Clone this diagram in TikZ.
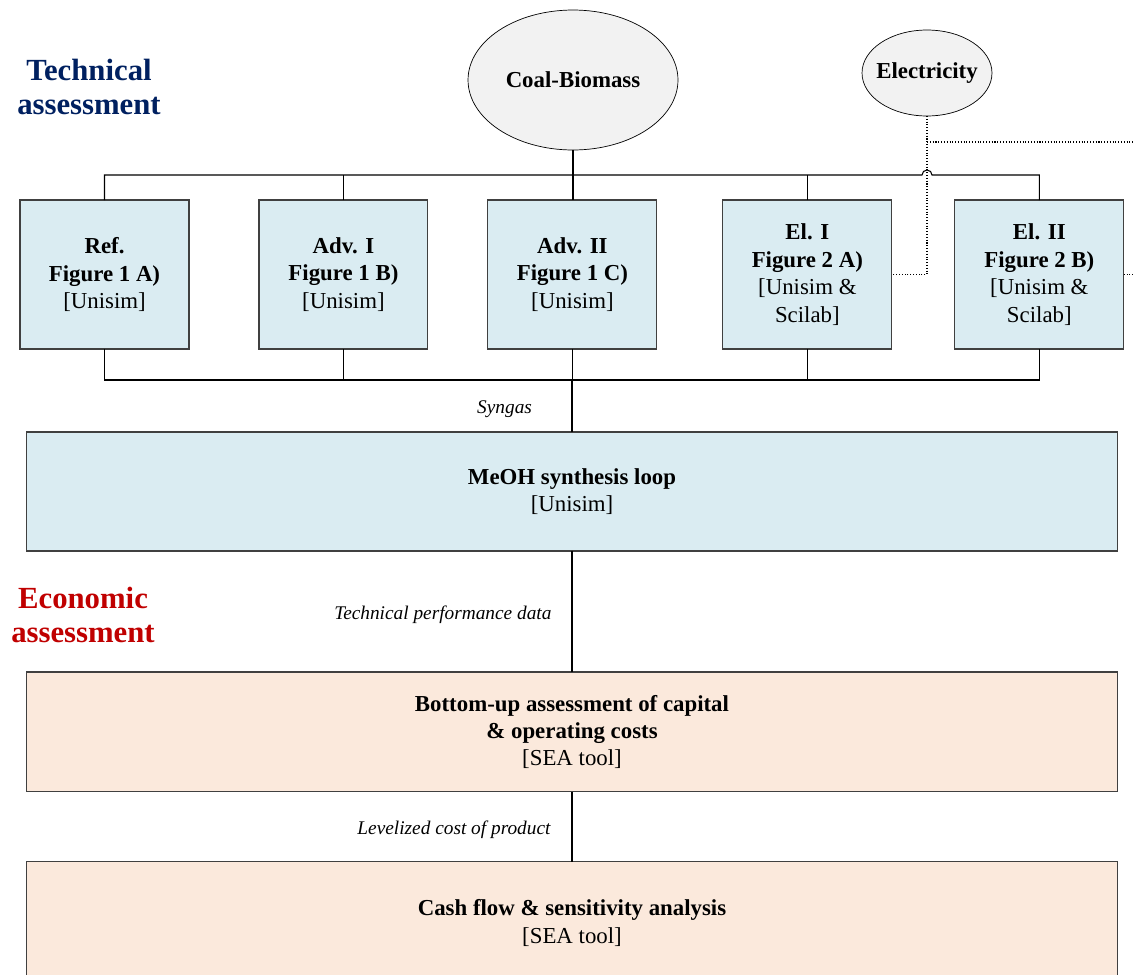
\documentclass[tikz,border=0pt]{standalone}
\usepackage{fontspec}
\setmainfont{Liberation Serif}
\usepackage{xcolor}
\usepackage{tikz}
\usetikzlibrary{shapes.geometric, positioning}
\definecolor{techblue}{RGB}{0,32,96}
\definecolor{econred}{RGB}{192,0,0}
\definecolor{boxblue}{RGB}{218,236,242}
\definecolor{boxpeach}{RGB}{251,233,220}
\definecolor{feedgray}{RGB}{242,242,242}
\definecolor{edgegray}{RGB}{64,64,64}
\tikzstyle{feed} = [ellipse,
draw=black, fill=feedgray,
inner sep=0pt, outer sep=0pt,
font=\fontsize{13}{15}\selectfont\bfseries]
\tikzstyle{config} = [rectangle,
minimum width=3.38cm,
minimum height=2.98cm,
text centered, align=center,
line width=0.6pt, outer sep=0pt,
draw=edgegray, fill=boxblue,
font=\fontsize{13}{15.6}\selectfont]
\tikzstyle{stage} = [rectangle,
minimum width=21.84cm,
minimum height=2.38cm,
text centered, align=center,
line width=0.6pt, outer sep=0pt,
draw=edgegray, fill=boxblue,
font=\fontsize{13}{15.6}\selectfont]
\tikzstyle{econstage} = [stage, minimum height=2.4cm, fill=boxpeach]
\tikzstyle{flowlabel} = [inner sep=0pt, font=\fontsize{11}{13}\selectfont\itshape]
\tikzstyle{heading} = [align=center, font=\fontsize{17.5}{19.3}\selectfont\bfseries]
\tikzstyle{bus} = [line width=0.6pt]
\tikzstyle{main} = [line width=1.2pt]
\tikzstyle{power} = [line width=0.6pt, densely dotted]

\begin{document}
\begin{tikzpicture}[x=0.02cm, y=-0.02cm]
                \clip (0,0) rectangle (1135,974);
                \node (techhead) [heading, text=techblue] at (89,87) {Technical\\assessment};
                \node (econhead) [heading, text=econred] at (83,615) {Economic\\assessment};

                \node (coal) [feed, minimum width=4.2cm, minimum height=2.8cm] at (573,80) {Coal-Biomass};
                \node (elec) [feed, inner xsep=-0.1cm, minimum width=2.6cm, minimum height=1.72cm] at (927,73) {Electricity};

                \node (ref) [config] at (104.5,274.5) {\textbf{Ref.}\\\textbf{Figure 1 A)}\\{[Unisim]}};
                \node (adv1) [config, right=1.4cm of ref] {\textbf{Adv. I}\\\textbf{Figure 1 B)}\\{[Unisim]}};
                \node (adv2) [config, right=1.2cm of adv1] {\textbf{Adv. II}\\\textbf{Figure 1 C)}\\{[Unisim]}};
                \node (el1) [config, right=1.32cm of adv2] {\textbf{El. I}\\\textbf{Figure 2 A)}\\{[Unisim \&}\\Scilab]};
                \node (el2) [config, right=1.26cm of el1] {\textbf{El. II}\\\textbf{Figure 2 B)}\\{[Unisim \&}\\Scilab]};

                \node (meoh) [stage] at (572,491.5) {\textbf{MeOH synthesis loop}\\{[Unisim]}};
                \node (capex) [econstage, below=2.42cm of meoh] {\textbf{Bottom-up assessment of capital}\\\textbf{\& operating costs}\\{[SEA tool]}};
                \node (cashflow) [econstage, below=1.4cm of capex, minimum height=2.44cm] {\textbf{Cash flow \& sensitivity analysis}\\{[SEA tool]}};

                \coordinate (topbus) at (573,175);
                \coordinate (botbus) at (572,380);
                \coordinate (gridout) at (1135,142);
                \coordinate (el2out) at (1135,274.5);

                % feed lines
                \draw [bus] (ref.north) |- ([xshift=-0.1cm]elec.south |- topbus) arc (180:360:5) -| (el2.north);
                \draw [bus] (adv1.north) -- (adv1.north |- topbus);
                \draw [bus] (el1.north) -- (el1.north |- topbus);
                \draw [main] (coal.south) -- (coal.south |- adv2.north);
                \draw [power] (elec.south) |- (el1.east);
                \draw [power] (elec.south |- gridout) -- (gridout);
                \draw [power] (el2.east) -- (el2out);

                % syngas collector
                \draw [bus] (ref.south) |- (el2.south |- botbus) -- (el2.south);
                \draw [bus] (adv1.south) -- (adv1.south |- botbus);
                \draw [bus] (adv2.south) -- (adv2.south |- botbus);
                \draw [bus] (el1.south) -- (el1.south |- botbus);
                \draw [main] (botbus) -- node [flowlabel, pos=0.56, left=0.78cm] {Syngas} (botbus |- meoh.north);

                \draw [bus] (meoh.south) -- node [flowlabel, pos=0.53, left=0.4cm] {Technical performance data} (capex.north);
                \draw [bus] (capex.south) -- node [flowlabel, pos=0.54, left=0.42cm] {Levelized cost of product} (cashflow.north);
            \end{tikzpicture}
\end{document}
